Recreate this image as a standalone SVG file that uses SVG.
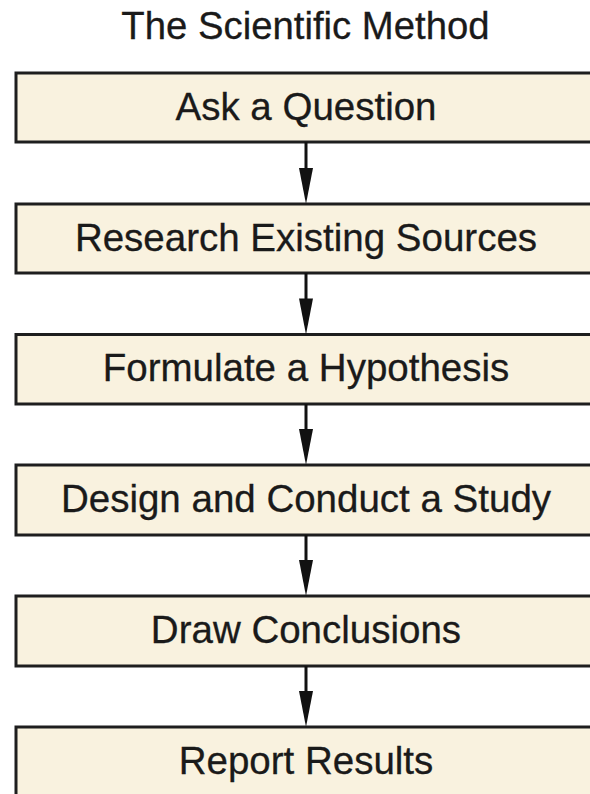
<svg xmlns="http://www.w3.org/2000/svg" width="590" height="794" viewBox="0 0 590 794">
<style>
.box{fill:#f9f2df;stroke:#1e1e1e;stroke-width:3}
.lbl{font-family:"Liberation Sans",Arial,sans-serif;font-size:38.5px;fill:#1a1a1a;text-anchor:middle;stroke:#1a1a1a;stroke-width:0.3}
.title{font-family:"Liberation Sans",Arial,sans-serif;font-size:38.3px;fill:#1a1a1a;text-anchor:middle;stroke:#1a1a1a;stroke-width:0.3}
.conn line{stroke:#111;stroke-width:3}
.conn polygon{fill:#111}
</style>
<rect width="590" height="794" fill="#ffffff"/>
<text class="title" x="305.5" y="38.5">The Scientific Method</text>
<g id="n1"><rect class="box" x="16" y="73" width="600" height="69"/><text class="lbl" x="306" y="119.5">Ask a Question</text></g>
<g id="n2"><rect class="box" x="16" y="204" width="600" height="69"/><text class="lbl" x="306" y="250.5">Research Existing Sources</text></g>
<g id="n3"><rect class="box" x="16" y="334.5" width="600" height="69.5"/><text class="lbl" x="306" y="381">Formulate a Hypothesis</text></g>
<g id="n4"><rect class="box" x="16" y="465" width="600" height="70"/><text class="lbl" x="306" y="512">Design and Conduct a Study</text></g>
<g id="n5"><rect class="box" x="16" y="596" width="600" height="70"/><text class="lbl" x="306" y="642.5">Draw Conclusions</text></g>
<g id="n6"><rect class="box" x="16" y="727" width="600" height="100"/><text class="lbl" x="306" y="773.5">Report Results</text></g>
<g id="connectors" class="conn">
<line x1="306" y1="142" x2="306" y2="175"/><polygon points="299,168 313,168 306,204"/>
<line x1="306" y1="273" x2="306" y2="305"/><polygon points="299,298.5 313,298.5 306,334.5"/>
<line x1="306" y1="404" x2="306" y2="436"/><polygon points="299,429 313,429 306,465"/>
<line x1="306" y1="535" x2="306" y2="567"/><polygon points="299,560 313,560 306,596"/>
<line x1="306" y1="666" x2="306" y2="698"/><polygon points="299,691 313,691 306,727"/>
</g>
</svg>
